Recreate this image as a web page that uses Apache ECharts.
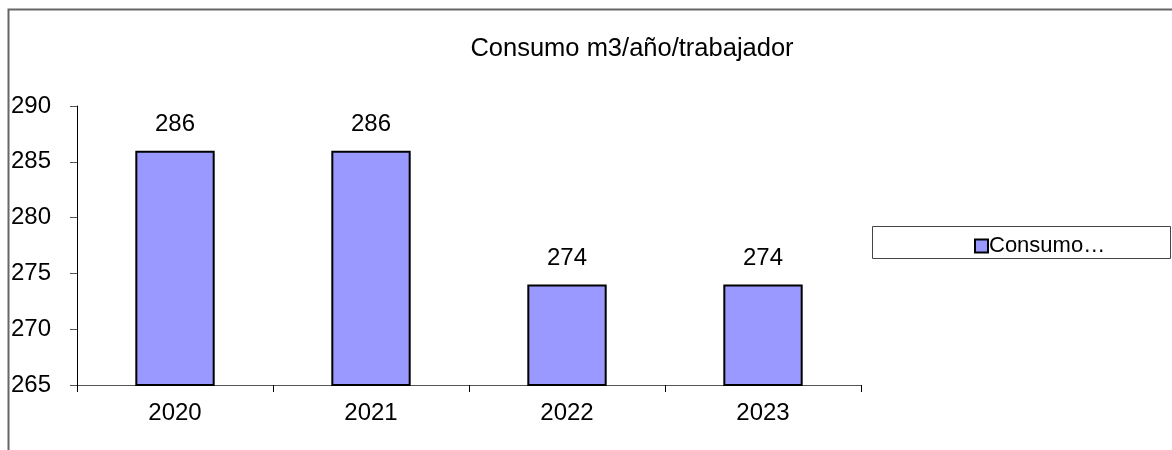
<!DOCTYPE html>
<html>
<head>
<meta charset="utf-8">
<script src="https://cdn.jsdelivr.net/npm/echarts@6/dist/echarts.min.js"></script>
<style>
  html, body { margin: 0; padding: 0; background: #fff; }
  #chart { width: 1172px; height: 450px; }
</style>
</head>
<body>
<div id="chart"></div>
<script>
  // values
  var years = ["2020", "2021", "2022", "2023"];
  var consumo = [286, 286, 274, 274];
  var seriesName = "Consumo m3/año/trabajador";

  var FONT = "Liberation Sans, Arial, sans-serif";
  var chart = echarts.init(document.getElementById("chart"), null, { renderer: "canvas" });

  chart.setOption({
    animation: false,
    textStyle: { fontFamily: FONT, color: "#000" },
    title: {
      text: seriesName,
      left: 627, top: 31, textAlign: "center",
      textStyle: { fontFamily: FONT, fontSize: 25.5, fontWeight: "normal", color: "#000" }
    },
    // outer frame + legend box
    graphic: [
      { type: "rect", shape: { x: 8.5, y: 9.5, width: 1300, height: 600 },
        style: { fill: "none", stroke: "#666", lineWidth: 2 }, silent: true },
      { type: "rect", shape: { x: 872.5, y: 226.5, width: 298, height: 32 },
        style: { fill: "#fff", stroke: "#444", lineWidth: 1 }, silent: true, z: 1 }
    ],
    legend: {
      left: 969, top: 230, z: 5,
      itemWidth: 13, itemHeight: 13, itemGap: 0,
      icon: "rect",
      textStyle: { fontFamily: FONT, fontSize: 22, color: "#000", padding: [0, 0, 0, -4] },
      formatter: function (n) { return n.split(" ")[0] + "…"; },
      itemStyle: { borderColor: "#000", borderWidth: 2 }
    },
    grid: { left: 77, top: 106, width: 784, height: 279 },
    xAxis: {
      type: "category", data: years,
      axisLine: { lineStyle: { color: "#555", width: 1 } },
      axisTick: { show: true, length: 7, lineStyle: { color: "#000" } },
      axisLabel: { fontFamily: FONT, fontSize: 24, color: "#000", margin: 16 }
    },
    yAxis: {
      type: "value", min: 265, max: 290, interval: 5,
      axisLine: { show: true, lineStyle: { color: "#000", width: 1 } },
      axisTick: { show: true, length: 7, lineStyle: { color: "#555" } },
      splitLine: { show: false },
      axisLabel: { fontFamily: FONT, fontSize: 24, color: "#000", align: "left", margin: 66 }
    },
    series: [{
      name: seriesName, type: "bar", data: consumo,
      barWidth: "40.5%",
      itemStyle: { color: "#9999ff", borderColor: "#000", borderWidth: 2 },
      label: { show: true, position: "top", distance: 14,
               fontFamily: FONT, fontSize: 24, color: "#000" }
    }]
  });
</script>
</body>
</html>
